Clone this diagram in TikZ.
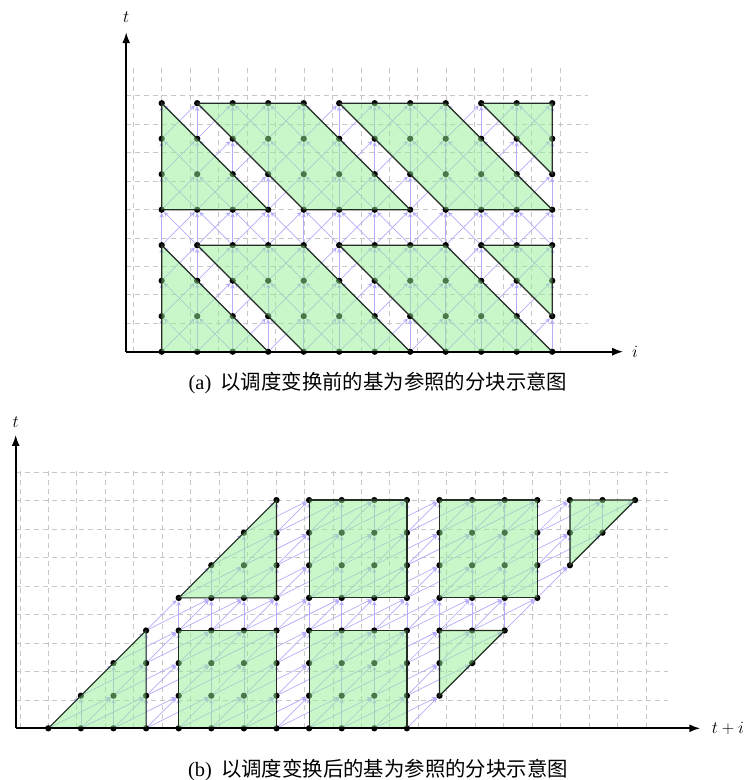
\documentclass[tikz,border=0pt]{standalone}
\usepackage{fontspec}
\usepackage{tikz}
\usetikzlibrary{arrows.meta}
\newfontfamily\cjk{Noto Sans CJK SC}
\newfontfamily\capfont{Liberation Serif}
\definecolor{tilegreen}{RGB}{150,240,150}
\definecolor{deplilac}{RGB}{180,172,250}
\definecolor{edgedark}{RGB}{35,45,35}

% lattice points of one sub-figure, #1 = prefix, #2 = x of point (\i,\t)
\newcommand{\lattice}[2]{%
  \foreach \i in {0,...,11}
    \foreach \t in {0,...,7}
      \node[dot] (#1-\i-\t) at ({#2},\t) {};}

% three incoming dependences of every point
\newcommand{\deparrows}[1]{%
  \foreach \i in {0,...,11}
    \foreach \t in {1,...,7} {
      \pgfmathtruncatemacro{\tprev}{\t-1}
      \pgfmathtruncatemacro{\ileft}{\i-1}
      \pgfmathtruncatemacro{\iright}{\i+1}
      \draw[dep] (#1-\i-\tprev) -- (#1-\i-\t);
      \ifnum\i>0 \draw[dep] (#1-\ileft-\tprev) -- (#1-\i-\t);\fi
      \ifnum\i<11 \draw[dep] (#1-\iright-\tprev) -- (#1-\i-\t);\fi
    }}

% the eight tiles, given by their corner points
\newcommand{\drawtiles}[1]{%
  % upper band
  \draw[tile] (#1-0-7.center) -- (#1-0-4.center) -- (#1-3-4.center) -- cycle;
  \draw[tile] (#1-1-7.center) -- (#1-4-7.center) -- (#1-7-4.center) -- (#1-4-4.center) -- cycle;
  \draw[tile] (#1-5-7.center) -- (#1-8-7.center) -- (#1-11-4.center) -- (#1-8-4.center) -- cycle;
  \draw[tile] (#1-9-7.center) -- (#1-11-7.center) -- (#1-11-5.center) -- cycle;
  % lower band
  \draw[tile] (#1-0-3.center) -- (#1-0-0.center) -- (#1-3-0.center) -- cycle;
  \draw[tile] (#1-1-3.center) -- (#1-4-3.center) -- (#1-7-0.center) -- (#1-4-0.center) -- cycle;
  \draw[tile] (#1-5-3.center) -- (#1-8-3.center) -- (#1-11-0.center) -- (#1-8-0.center) -- cycle;
  \draw[tile] (#1-9-3.center) -- (#1-11-3.center) -- (#1-11-1.center) -- cycle;}

\begin{document}
\begin{tikzpicture}[
    dot/.style={circle, fill=black, inner sep=0pt, minimum size=6.3pt},
    dep/.style={-{Stealth[length=4.5pt,width=4.5pt]}, deplilac, line width=0.7pt},
    tile/.style={fill=tilegreen, fill opacity=0.5, draw=edgedark, line width=1.2pt},
    gridline/.style={black!22, dash pattern=on 5pt off 4pt, line width=0.6pt},
    axis/.style={-{Latex[length=11pt,width=8pt]}, line width=1.7pt},
    lbl/.style={font=\fontsize{17}{20}\selectfont},
    captext/.style={font=\fontsize{20.4}{24}\selectfont}
]
\useasboundingbox (0,0) rectangle (744pt,780pt);

% (a) before the schedule transformation
\begin{scope}[shift={(161.7pt,428.3pt)}, x=35.5pt, y=35.5pt]
\draw[gridline] (-1,0) grid (12,8);
\lattice{a}{\i}
\deparrows{a}
\drawtiles{a}
\coordinate (a-o) at (-1,0);
\coordinate (a-x) at (13,0);
\coordinate (a-y) at (-1,9);
\draw[axis] (a-o) -- (a-x);
\draw[axis] (a-o) -- (a-y);
\node[lbl] (a-tl) at (-1,9.43) {$t$};
\node[lbl, anchor=west] (a-il) at (13.15,0) {$i$};
\end{scope}
\node[captext] (capa) at (378pt,397pt) {\capfont (a)\hspace{0.45em}\cjk 以调度变换前的基为参照的分块示意图};

% (b) after the schedule transformation
\begin{scope}[shift={(48.3pt,51.7pt)}, x=32.6pt, y=32.6pt]
\draw[gridline] (-1,0) grid (19,8);
\lattice{b}{\i+\t}
\deparrows{b}
\drawtiles{b}
\coordinate (b-o) at (-1,0);
\coordinate (b-x) at (20,0);
\coordinate (b-y) at (-1,9);
\draw[axis] (b-o) -- (b-x);
\draw[axis] (b-o) -- (b-y);
\node[lbl] (b-tl) at (-1,9.4) {$t$};
\node[lbl, anchor=west] (b-il) at (20.25,0) {$t+i$};
\end{scope}
\node[captext] (capb) at (378pt,9.5pt) {\capfont (b)\hspace{0.45em}\cjk 以调度变换后的基为参照的分块示意图};
\end{tikzpicture}
\end{document}
